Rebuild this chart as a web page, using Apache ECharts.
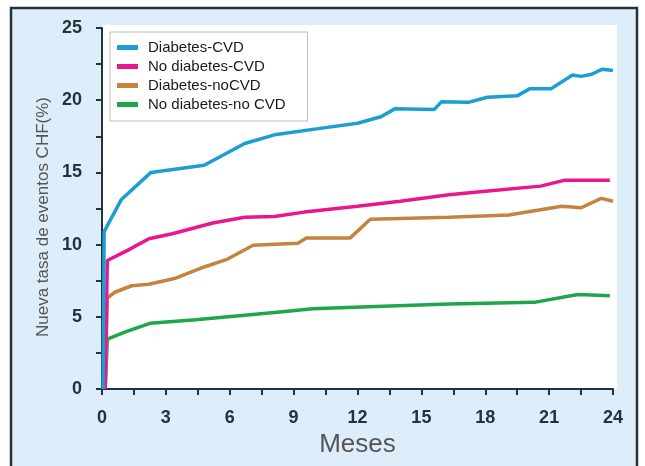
<!DOCTYPE html>
<html>
<head>
<meta charset="utf-8">
<script src="https://cdn.jsdelivr.net/npm/echarts@6/dist/echarts.min.js"></script>
<style>
html,body{margin:0;padding:0;background:#fff;}
#c{width:645px;height:466px;}
</style>
</head>
<body>
<div id="c"></div>
<script>
var seriesNames = ['Diabetes-CVD', 'No diabetes-CVD', 'Diabetes-noCVD', 'No diabetes-no CVD'];
var xTicks = [0, 3, 6, 9, 12, 15, 18, 21, 24];
var yTicks = [0, 5, 10, 15, 20, 25];
var xTitle = 'Meses';
var yTitle = 'Nueva tasa de eventos CHF(%)';

// [meses, tasa %]
var diabetesCVD = [[0.05,0],[0.1,10.9],[0.9,13.1],[2.3,15.0],[4.8,15.5],[6.7,17.0],[8.1,17.6],[10.5,18.1],[12.0,18.4],[13.1,18.85],[13.75,19.4],[15.6,19.35],[15.95,19.9],[17.2,19.85],[18.1,20.2],[19.5,20.3],[20.1,20.8],[21.1,20.8],[22.1,21.75],[22.5,21.65],[23.0,21.8],[23.5,22.15],[24,22.05]];
var noDiabetesCVD = [[0.15,0],[0.25,8.9],[1.2,9.6],[2.2,10.4],[3.3,10.75],[5.2,11.5],[6.7,11.9],[8.1,11.95],[9.5,12.25],[12,12.65],[14,13.0],[16.3,13.45],[18,13.7],[20.6,14.05],[21.7,14.45],[23.85,14.45]];
var diabetesNoCVD = [[0.15,0],[0.25,6.3],[0.6,6.7],[1.4,7.15],[2.2,7.25],[3.4,7.65],[4.8,8.45],[5.9,9.0],[7.1,9.95],[9.2,10.1],[9.6,10.45],[11.65,10.45],[12.6,11.75],[16.3,11.9],[19.1,12.05],[21.6,12.65],[22.5,12.55],[23.45,13.2],[24,13.0]];
var noDiabetesNoCVD = [[0.15,0],[0.25,3.45],[1.1,3.95],[2.25,4.55],[4.4,4.8],[8.1,5.3],[9.9,5.55],[12.5,5.7],[16.3,5.88],[20.3,6.0],[22.35,6.55],[23.85,6.45]];

var colors = ['#1b9fd2', '#e8178e', '#c4843f', '#1fa64b'];
var allData = [diabetesCVD, noDiabetesCVD, diabetesNoCVD, noDiabetesNoCVD];
var FONT = '"Liberation Sans", Arial, Helvetica, sans-serif';
var AX = '#22333d';

var chart = echarts.init(document.getElementById('c'), null, {renderer: 'canvas'});
chart.setOption({
  backgroundColor: '#ffffff',
  animation: false,
  graphic: [
    {type: 'rect', z: -10, shape: {x: 11, y: 8, width: 626, height: 470},
     style: {fill: '#ddeefa', stroke: '#263238', lineWidth: 2.5}},
    {type: 'rect', z: -9, shape: {x: 102, y: 25, width: 515, height: 364},
     style: {fill: '#ffffff'}},
    {type: 'text', x: 43, y: 217, rotation: Math.PI / 2,
     style: {text: yTitle, fontFamily: FONT, fontSize: 17, fill: '#555', align: 'center', verticalAlign: 'middle'}}
  ],
  grid: {left: 102, right: 32, top: 28, bottom: 77},
  legend: {
    orient: 'vertical', left: 110, top: 32,
    padding: [8, 22, 9, 7], itemGap: 4,
    itemWidth: 21, itemHeight: 5, icon: 'rect',
    backgroundColor: '#ffffff', borderColor: '#b8bec4', borderWidth: 1,
    textStyle: {fontFamily: FONT, fontSize: 15, color: '#1a1a1a', padding: [0,0,0,5]},
    data: seriesNames
  },
  xAxis: {
    type: 'value', min: 0, max: 24, interval: 1.5,
    name: xTitle, nameLocation: 'middle', nameGap: 39,
    nameTextStyle: {fontFamily: FONT, fontSize: 26, color: '#555'},
    axisLine: {show: true, lineStyle: {color: AX, width: 2}},
    axisTick: {show: true, length: 6, lineStyle: {color: AX, width: 2}},
    axisLabel: {margin: 20, fontFamily: FONT, fontSize: 18, fontWeight: 'bold', color: AX,
      formatter: function (v) { return xTicks.indexOf(v) >= 0 ? String(v) : ''; }},
    splitLine: {show: false}
  },
  yAxis: {
    type: 'value', min: 0, max: 25, interval: 2.5,
    axisLine: {show: true, lineStyle: {color: AX, width: 2}},
    axisTick: {show: true, length: 6, lineStyle: {color: AX, width: 2}},
    axisLabel: {margin: 20, fontFamily: FONT, fontSize: 18, fontWeight: 'bold', color: AX,
      formatter: function (v) { return yTicks.indexOf(v) >= 0 ? String(v) : ''; }},
    splitLine: {show: false}
  },
  series: seriesNames.map(function (n, i) {
    return {
      name: n, type: 'line', data: allData[i], showSymbol: false, symbol: 'none',
      lineStyle: {color: colors[i], width: 3.5}, itemStyle: {color: colors[i]},
      z: 10 - i
    };
  })
});
</script>
</body>
</html>
